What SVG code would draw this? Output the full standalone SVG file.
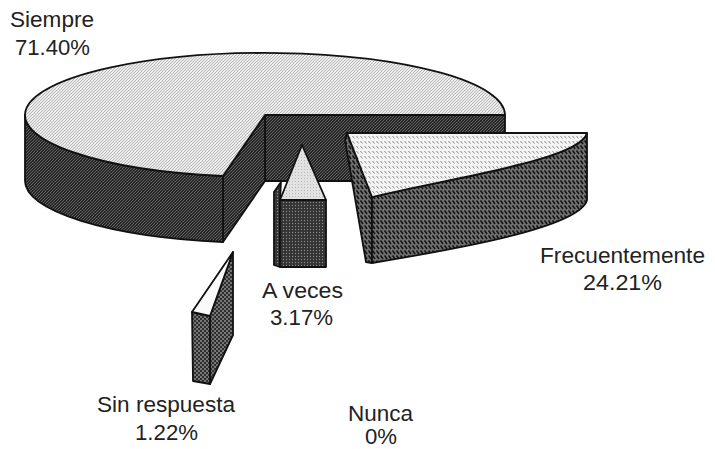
<svg xmlns="http://www.w3.org/2000/svg" width="715" height="449" viewBox="0 0 715 449">
<style>
  .lbl { font-family: "Liberation Sans", Arial, sans-serif; font-size: 22px; fill: #222; text-anchor: middle; }
  .edge { stroke: #111; stroke-width: 1.8; stroke-linejoin: round; }
</style>
<defs>
  <pattern id="pSiTop" patternUnits="userSpaceOnUse" width="3" height="3">
    <rect width="3" height="3" fill="#ececec"/>
    <path d="M-1,1 L1,-1 M0,3 L3,0 M2,4 L4,2" stroke="#a0a0a0" stroke-width="0.7"/>
  </pattern>
  <pattern id="pSiSide" patternUnits="userSpaceOnUse" width="3" height="3">
    <rect width="3" height="3" fill="#262626"/>
    <path d="M-1,1 L1,-1 M0,3 L3,0 M2,4 L4,2" stroke="#7e7e7e" stroke-width="0.7"/>
  </pattern>
  <pattern id="pFrTop" patternUnits="userSpaceOnUse" width="4" height="5">
    <rect width="4" height="5" fill="#f4f4f4"/>
    <path d="M0.5,1 L2.5,3.5" stroke="#8c8c8c" stroke-width="1"/>
  </pattern>
  <pattern id="pFrSide" patternUnits="userSpaceOnUse" width="4" height="5">
    <rect width="4" height="5" fill="#707070"/>
    <path d="M0.5,0.5 L3,4" stroke="#101010" stroke-width="1.5"/>
  </pattern>
  <pattern id="pAvTop" patternUnits="userSpaceOnUse" width="3" height="3">
    <rect width="3" height="3" fill="#e2e2e2"/>
    <circle cx="1.5" cy="1.5" r="0.5" fill="#aaa"/>
  </pattern>
  <pattern id="pAvSide" patternUnits="userSpaceOnUse" width="3" height="3">
    <rect width="3" height="3" fill="#333"/>
    <circle cx="1.5" cy="1.5" r="0.7" fill="#888"/>
  </pattern>
  <pattern id="pSrSide" patternUnits="userSpaceOnUse" width="4" height="4">
    <rect width="4" height="4" fill="#2e2e2e"/>
    <circle cx="1" cy="1" r="0.9" fill="#9a9a9a"/>
    <circle cx="3" cy="3" r="0.9" fill="#9a9a9a"/>
  </pattern>
</defs>

<g id="node-siempre">
  <path class="edge" fill="url(#pSiSide)" d="M265,115 L505,115 L505,181 L265,181 Z"/>
  <path class="edge" fill="url(#pSiSide)" d="M265,115 L223,176 L223,242 L265,181 Z"/>
  <path class="edge" fill="url(#pSiSide)" d="M223,176 A240,62 0 0 1 25,115 L25,181 A240,62 0 0 0 223,242 Z"/>
  <path class="edge" fill="url(#pSiTop)" d="M265,115 L223,176 A240,62 0 1 1 505,115 Z"/>
  <text class="lbl" x="52" y="27" textLength="84" lengthAdjust="spacingAndGlyphs">Siempre</text>
  <text class="lbl" x="52.5" y="55" textLength="75" lengthAdjust="spacingAndGlyphs">71.40%</text>
</g>

<g id="node-aveces">
  <path class="edge" fill="url(#pAvSide)" d="M281,182 L280,200 L280,267 L274,265 L274,192 Z"/>
  <path class="edge" fill="url(#pAvSide)" d="M280,200 L326,200 L326,267 L280,267 Z"/>
  <path class="edge" fill="url(#pAvTop)" d="M302,145 L280,200 L326,200 Z"/>
  <text class="lbl" x="302.5" y="298" textLength="81" lengthAdjust="spacingAndGlyphs">A veces</text>
  <text class="lbl" x="301.5" y="325" textLength="63" lengthAdjust="spacingAndGlyphs">3.17%</text>
</g>

<g id="node-frecuentemente">
  <path class="edge" fill="url(#pFrSide)" d="M347,133 L372,197 L372,263 L366,262 L345,140 Z"/>
  <path class="edge" fill="url(#pFrSide)" d="M372,197 C450,178 580,160 587,133 L587,200 C580,228 450,250 372,263 Z"/>
  <path class="edge" fill="url(#pFrTop)" d="M347,133 L587,133 C580,160 450,178 372,197 Z"/>
  <text class="lbl" x="622.5" y="263" textLength="165" lengthAdjust="spacingAndGlyphs">Frecuentemente</text>
  <text class="lbl" x="622.5" y="290" textLength="79" lengthAdjust="spacingAndGlyphs">24.21%</text>
</g>

<g id="node-sinrespuesta">
  <path class="edge" fill="url(#pSrSide)" d="M210,316 L233,252 L233,335 L210,384 Z"/>
  <path class="edge" fill="url(#pSrSide)" d="M192,312 L210,316 L210,384 L193,381 Z"/>
  <path class="edge" fill="#fafafa" d="M233,252 L192,312 L210,316 Z"/>
  <text class="lbl" x="166" y="412" textLength="138" lengthAdjust="spacingAndGlyphs">Sin respuesta</text>
  <text class="lbl" x="166.5" y="440" textLength="63" lengthAdjust="spacingAndGlyphs">1.22%</text>
</g>

<g id="node-nunca">
  <text class="lbl" x="380.5" y="421" textLength="65" lengthAdjust="spacingAndGlyphs">Nunca</text>
  <text class="lbl" x="381" y="444" textLength="32" lengthAdjust="spacingAndGlyphs">0%</text>
</g>

<g id="connectors"></g>
</svg>
